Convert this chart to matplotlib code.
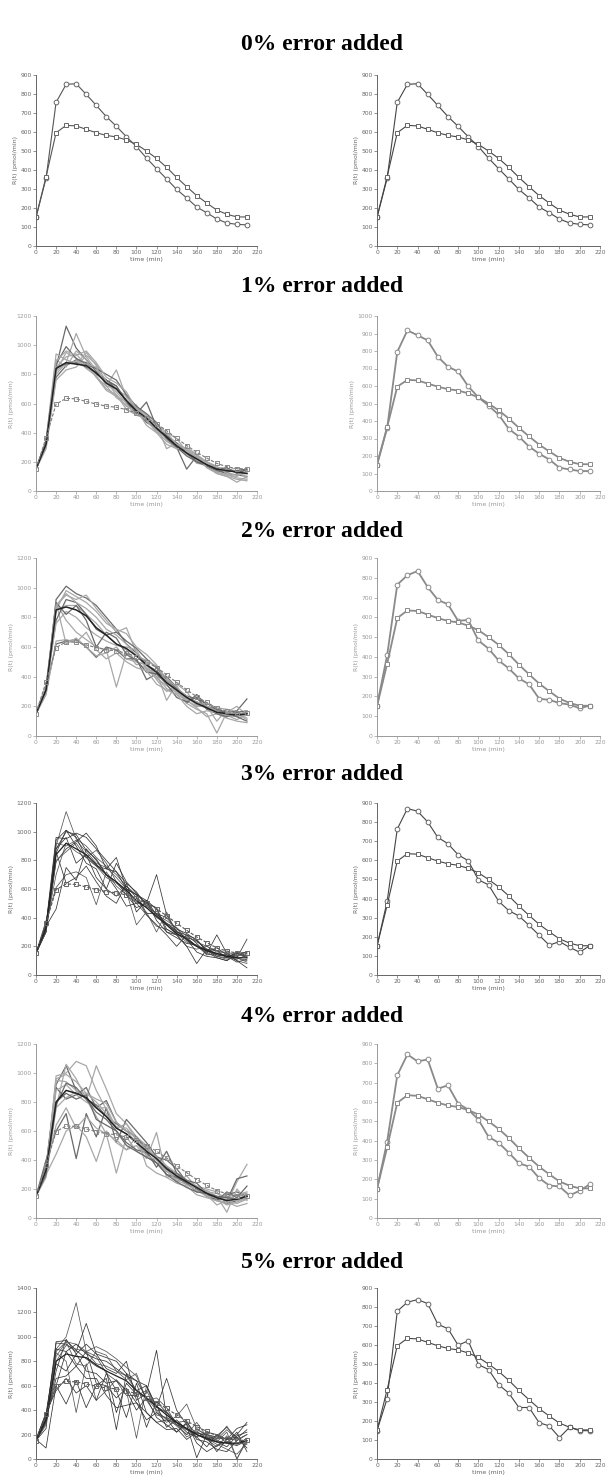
import matplotlib
matplotlib.use('Agg')
import matplotlib.pyplot as plt

# ---------------- data ----------------
time_min = list(range(0, 220, 10))
titles = ['0% error added', '1% error added', '2% error added',
          '3% error added', '4% error added', '5% error added']

true_profile = [151, 365, 596, 635, 632, 614, 596, 582, 574, 558, 535, 500,
                461, 414, 361, 312, 265, 226, 189, 167, 153, 153]

fit_err0 = [151, 356, 756, 851, 854, 798, 740, 681, 630, 575, 523, 463,
            407, 353, 298, 253, 205, 175, 142, 121, 114, 111]
fit_err1 = [150, 360, 795, 918, 890, 861, 767, 710, 683, 598, 535, 488,
            436, 355, 311, 254, 213, 180, 133, 123, 114, 114]
fit_err2 = [154, 408, 765, 813, 834, 753, 688, 666, 582, 587, 483, 442,
            382, 342, 291, 262, 188, 183, 166, 159, 140, 154]
fit_err3 = [152, 385, 764, 871, 857, 801, 720, 687, 629, 598, 498, 472,
            386, 337, 309, 260, 208, 156, 175, 145, 119, 154]
fit_err4 = [150, 395, 738, 846, 810, 820, 669, 686, 592, 561, 509, 420,
            389, 338, 283, 266, 206, 168, 163, 117, 141, 175]
fit_err5 = [149, 318, 778, 825, 839, 818, 709, 686, 599, 622, 497, 471,
            391, 347, 271, 271, 191, 174, 113, 167, 149, 149]

runs_err1 = [
    [150, 320, 850, 1130, 980, 900, 820, 760, 700, 620, 560, 500, 430, 380, 310, 260, 220, 180, 140, 120, 110, 100],
    [160, 300, 800, 880, 1080, 920, 830, 740, 680, 600, 540, 480, 420, 360, 300, 250, 210, 170, 150, 130, 140, 120],
    [150, 340, 940, 900, 870, 950, 860, 720, 830, 640, 570, 520, 450, 290, 330, 280, 230, 170, 130, 110, 90, 80],
    [155, 330, 780, 860, 900, 880, 800, 760, 720, 610, 530, 610, 440, 370, 300, 150, 240, 200, 160, 150, 130, 140],
    [150, 310, 820, 950, 910, 840, 790, 700, 660, 580, 550, 490, 400, 390, 310, 270, 190, 180, 120, 100, 60, 100],
    [150, 350, 900, 850, 960, 900, 780, 720, 700, 650, 560, 510, 440, 350, 290, 280, 250, 200, 150, 140, 160, 130],
    [160, 320, 850, 870, 880, 850, 810, 760, 720, 620, 540, 470, 430, 380, 330, 260, 200, 170, 140, 130, 140, 150],
    [150, 290, 760, 830, 850, 930, 870, 750, 660, 560, 520, 500, 460, 400, 320, 290, 240, 190, 160, 150, 130, 90],
    [150, 330, 850, 920, 940, 860, 780, 690, 650, 610, 590, 480, 410, 340, 300, 260, 230, 160, 130, 110, 100, 140],
    [150, 340, 870, 990, 910, 870, 840, 800, 760, 660, 580, 530, 470, 360, 300, 240, 200, 180, 150, 160, 120, 150],
    [150, 300, 820, 880, 890, 870, 850, 720, 640, 590, 520, 500, 420, 400, 360, 270, 230, 200, 170, 120, 110, 120],
    [155, 320, 890, 960, 930, 960, 880, 780, 740, 680, 560, 450, 400, 320, 290, 300, 250, 160, 120, 100, 80, 70],
]
mean_err1 = [150, 320, 840, 880, 870, 860, 810, 740, 700, 620, 550, 500, 430, 370, 310, 260, 220, 180, 150, 140, 130, 120]

runs_err2 = [
    [150, 300, 920, 1010, 960, 930, 880, 800, 720, 620, 560, 480, 440, 380, 300, 260, 230, 200, 170, 150, 140, 160],
    [160, 320, 900, 780, 700, 650, 600, 580, 330, 560, 480, 500, 400, 320, 280, 240, 190, 130, 150, 140, 110, 150],
    [150, 280, 880, 950, 920, 950, 860, 780, 700, 730, 560, 450, 430, 240, 350, 300, 200, 200, 100, 180, 160, 120],
    [150, 310, 620, 640, 650, 600, 530, 600, 580, 520, 520, 380, 420, 400, 330, 220, 280, 200, 180, 160, 170, 250],
    [150, 340, 850, 880, 880, 820, 760, 680, 620, 580, 500, 450, 390, 340, 290, 250, 230, 200, 160, 140, 130, 150],
    [160, 300, 900, 620, 660, 600, 540, 560, 600, 520, 500, 480, 380, 300, 340, 220, 180, 150, 20, 160, 200, 140],
    [150, 320, 780, 920, 900, 820, 720, 680, 700, 640, 590, 520, 460, 380, 320, 270, 250, 220, 180, 150, 130, 100],
    [150, 290, 850, 980, 940, 900, 840, 760, 720, 690, 600, 550, 480, 360, 300, 270, 210, 190, 150, 120, 100, 90],
    [150, 330, 760, 840, 800, 730, 680, 640, 610, 600, 580, 460, 400, 380, 300, 240, 200, 200, 170, 130, 140, 160],
    [150, 310, 900, 820, 880, 780, 600, 700, 660, 550, 510, 430, 420, 350, 260, 230, 260, 180, 150, 130, 160, 170],
    [150, 280, 640, 650, 630, 700, 580, 520, 560, 500, 460, 440, 350, 310, 280, 200, 150, 170, 160, 140, 150, 110],
    [160, 340, 880, 960, 900, 860, 800, 720, 680, 620, 540, 510, 470, 390, 330, 260, 210, 220, 190, 180, 140, 170],
]
mean_err2 = [150, 310, 850, 870, 850, 810, 730, 680, 620, 590, 540, 480, 430, 360, 310, 260, 220, 190, 160, 150, 140, 150]

runs_err3 = [
    [150, 320, 900, 1140, 950, 900, 820, 760, 700, 620, 560, 500, 420, 380, 330, 240, 200, 170, 140, 130, 120, 100],
    [150, 350, 960, 950, 990, 960, 880, 800, 720, 640, 580, 480, 430, 360, 300, 260, 200, 180, 150, 140, 130, 150],
    [160, 300, 850, 1010, 900, 780, 740, 600, 780, 650, 570, 500, 700, 420, 300, 280, 220, 150, 280, 150, 120, 250],
    [150, 380, 610, 700, 720, 680, 490, 720, 620, 560, 500, 420, 340, 320, 280, 200, 180, 200, 170, 150, 100, 80],
    [150, 340, 460, 750, 660, 880, 800, 700, 650, 560, 470, 500, 470, 320, 280, 260, 240, 180, 140, 130, 150, 130],
    [160, 310, 880, 960, 780, 840, 680, 600, 550, 620, 540, 420, 350, 280, 200, 280, 250, 160, 190, 140, 100, 50],
    [150, 330, 920, 900, 940, 860, 780, 750, 680, 600, 510, 470, 400, 360, 330, 270, 230, 200, 160, 160, 140, 160],
    [150, 300, 790, 880, 930, 990, 900, 740, 720, 600, 560, 430, 430, 400, 320, 290, 240, 170, 130, 120, 110, 140],
    [150, 360, 860, 640, 680, 760, 650, 550, 500, 640, 440, 520, 380, 300, 280, 200, 80, 180, 170, 120, 160, 120],
    [150, 340, 700, 920, 860, 820, 870, 780, 650, 580, 350, 440, 300, 440, 290, 230, 200, 160, 120, 100, 150, 130],
    [160, 320, 940, 1010, 960, 820, 760, 740, 820, 600, 560, 520, 460, 300, 260, 220, 210, 140, 150, 130, 90, 110],
    [150, 340, 880, 1000, 980, 870, 810, 700, 600, 480, 500, 520, 420, 360, 310, 250, 160, 130, 120, 100, 150, 160],
    [150, 300, 800, 860, 920, 820, 760, 680, 640, 580, 500, 490, 420, 350, 280, 260, 200, 150, 130, 110, 120, 90],
]
mean_err3 = [150, 330, 840, 920, 880, 840, 770, 700, 650, 590, 520, 470, 410, 350, 290, 250, 200, 170, 150, 130, 120, 120]

runs_err4 = [
    [150, 320, 920, 1050, 880, 820, 780, 700, 650, 600, 560, 480, 410, 350, 300, 260, 200, 150, 120, 100, 120, 150],
    [160, 300, 980, 1000, 1080, 1050, 880, 750, 620, 580, 520, 440, 380, 320, 280, 240, 220, 200, 180, 100, 250, 370],
    [150, 350, 950, 940, 880, 820, 1050, 890, 720, 650, 560, 500, 430, 360, 310, 260, 220, 180, 130, 90, 110, 140],
    [150, 400, 600, 720, 410, 720, 560, 760, 520, 680, 600, 520, 420, 400, 340, 250, 200, 160, 120, 160, 180, 150],
    [160, 300, 440, 600, 640, 560, 390, 600, 520, 470, 500, 410, 590, 280, 300, 230, 210, 190, 150, 40, 200, 120],
    [150, 330, 760, 1060, 960, 820, 700, 580, 310, 560, 460, 420, 380, 330, 250, 290, 210, 180, 140, 130, 160, 170],
    [150, 360, 900, 820, 850, 900, 760, 810, 660, 600, 560, 460, 350, 460, 310, 260, 240, 170, 140, 120, 270, 290],
    [150, 280, 760, 830, 870, 860, 800, 720, 630, 620, 540, 470, 420, 340, 290, 230, 210, 160, 90, 120, 160, 180],
    [160, 340, 880, 920, 850, 800, 760, 760, 620, 650, 540, 490, 400, 330, 270, 250, 210, 180, 170, 140, 120, 130],
    [150, 320, 780, 930, 900, 820, 730, 680, 600, 520, 470, 450, 380, 300, 280, 240, 180, 170, 120, 180, 140, 220],
    [150, 340, 640, 760, 620, 700, 620, 580, 540, 470, 560, 360, 310, 280, 240, 220, 160, 140, 120, 110, 80, 100],
    [150, 310, 960, 990, 940, 860, 820, 790, 660, 600, 520, 430, 400, 330, 260, 230, 190, 150, 140, 120, 100, 130],
    [150, 300, 800, 860, 820, 850, 680, 640, 600, 500, 460, 420, 380, 300, 250, 210, 180, 170, 150, 140, 130, 150],
]
mean_err4 = [150, 330, 800, 880, 860, 830, 760, 700, 620, 580, 520, 460, 410, 340, 290, 250, 210, 170, 140, 120, 130, 150]

runs_err5 = [
    [150, 330, 900, 1000, 1280, 880, 840, 700, 640, 520, 520, 560, 400, 320, 280, 240, 200, 170, 120, 80, 40, 130],
    [150, 250, 950, 940, 880, 1110, 860, 740, 700, 800, 480, 540, 890, 340, 300, 250, 200, 160, 190, 260, 170, 240],
    [160, 90, 600, 450, 640, 420, 600, 660, 240, 700, 560, 600, 420, 660, 400, 280, 10, 200, 180, 160, 200, 300],
    [150, 360, 870, 800, 380, 780, 480, 560, 650, 560, 170, 600, 380, 300, 350, 450, 250, 190, 140, 220, 0, 170],
    [150, 330, 960, 970, 890, 820, 760, 720, 380, 620, 530, 260, 470, 380, 300, 310, 160, 140, 80, 60, 150, 200],
    [150, 300, 720, 980, 860, 940, 860, 830, 800, 700, 640, 600, 430, 380, 280, 250, 180, 220, 200, 160, 180, 90],
    [150, 340, 800, 930, 900, 880, 780, 760, 720, 680, 560, 500, 400, 390, 300, 180, 230, 160, 100, 190, 0, 150],
    [160, 380, 560, 660, 540, 600, 480, 700, 560, 340, 620, 380, 300, 240, 250, 160, 220, 180, 60, 160, 250, 280],
    [150, 320, 660, 680, 760, 880, 620, 600, 500, 580, 460, 320, 380, 330, 220, 290, 130, 60, 110, 140, 120, 170],
    [150, 280, 880, 960, 940, 880, 920, 880, 820, 750, 680, 480, 500, 420, 280, 200, 300, 180, 160, 240, 160, 200],
    [150, 300, 780, 720, 860, 720, 700, 620, 640, 560, 400, 500, 440, 260, 320, 240, 210, 200, 150, 130, 220, 60],
    [160, 370, 900, 880, 760, 660, 660, 520, 420, 440, 460, 380, 300, 320, 300, 220, 180, 100, 200, 130, 110, 150],
    [150, 300, 840, 960, 780, 760, 880, 850, 720, 650, 700, 480, 360, 340, 270, 200, 240, 200, 170, 270, 130, 120],
    [150, 360, 600, 880, 940, 860, 820, 800, 740, 680, 640, 500, 340, 280, 220, 300, 200, 160, 140, 100, 190, 220],
]
mean_err5 = [150, 320, 800, 860, 840, 830, 770, 720, 680, 640, 560, 500, 430, 360, 300, 250, 200, 170, 140, 130, 130, 150]

# ---------------- layout / style ----------------
W, H = 608, 1477
fig = plt.figure(figsize=(W / 100, H / 100), dpi=100)
fig.patch.set_facecolor('white')

rows_y = [(75, 246), (316, 491), (558, 736), (803, 975), (1044, 1218), (1288, 1459)]
title_y = [44, 287, 532, 775, 1016, 1262]
left_x = (36, 257)
right_x = (377, 600)

left_ymax = [900, 1200, 1200, 1200, 1200, 1400]
left_ystep = [100, 200, 200, 200, 200, 200]
right_ymax = [900, 1000, 900, 900, 900, 900]

fits = [fit_err0, fit_err1, fit_err2, fit_err3, fit_err4, fit_err5]
runs = [None, runs_err1, runs_err2, runs_err3, runs_err4, runs_err5]
means = [None, mean_err1, mean_err2, mean_err3, mean_err4, mean_err5]

# visual tone per row: dark (black scan) or light (gray scan)
dark_row = [True, False, False, True, False, True]


def add_ax(xr, yr):
    x0, x1 = xr
    y0, y1 = yr
    return fig.add_axes([x0 / W, 1 - y1 / H, (x1 - x0) / W, (y1 - y0) / H])


def style(ax, ymax, ystep, col):
    ax.set_xlim(0, 220)
    ax.set_ylim(0, ymax)
    ax.set_xticks(range(0, 221, 20))
    ax.set_yticks(range(0, ymax + 1, ystep))
    for s in ['top', 'right']:
        ax.spines[s].set_visible(False)
    for s in ['left', 'bottom']:
        ax.spines[s].set_color(col)
        ax.spines[s].set_linewidth(0.7)
    ax.tick_params(direction='out', length=2, width=0.5, colors=col,
                   labelsize=4.3, pad=1)
    ax.set_xlabel('time (min)', fontsize=4.5, color=col, labelpad=1)
    ax.set_ylabel('R(t) (pmol/min)', fontsize=4.5, color=col, labelpad=2)


for i in range(6):
    fig.text(322 / W, 1 - title_y[i] / H, titles[i], ha='center', va='center',
             fontsize=17, fontweight='bold', family='Liberation Serif')

    dk = dark_row[i]
    axcol = '#666666' if dk else '#9a9a9a'
    linecol = '#444444' if dk else '#8a8a8a'

    # ----- left panel -----
    axl = add_ax(left_x, rows_y[i])
    if i == 0:
        axl.plot(time_min, fits[0], '-o', color='#555555', lw=0.8, ms=3.4,
                 mfc='white', mec='#666666', mew=0.7)
        axl.plot(time_min, true_profile, '-s', color='#555555', lw=0.8, ms=3.2,
                 mfc='white', mec='#666666', mew=0.7)
    else:
        for k, r in enumerate(runs[i]):
            if dk:
                c = '#333333' if k % 3 else '#555555'
                lw = 0.55
            else:
                c = '#a8a8a8' if k % 3 else '#6a6a6a'
                lw = 0.9
            axl.plot(time_min, r, '-', color=c, lw=lw)
        axl.plot(time_min, means[i], '-', color='#222222', lw=1.1 if not dk else 0.9)
        axl.plot(time_min, true_profile, '--s', color='#555555' if dk else '#7a7a7a',
                 lw=0.8, ms=3.0, mfc='none', mec='#666666' if dk else '#8a8a8a', mew=0.7,
                 dashes=(3, 1.5))
    style(axl, left_ymax[i], left_ystep[i], axcol)

    # ----- right panel -----
    axr = add_ax(right_x, rows_y[i])
    lw = 0.8 if dk else 1.3
    mcol = '#666666' if dk else '#8a8a8a'
    axr.plot(time_min, fits[i], '-o', color=linecol, lw=lw, ms=3.4,
             mfc='white', mec=mcol, mew=0.7)
    axr.plot(time_min, true_profile, '-s', color=linecol, lw=lw, ms=3.2,
             mfc='white', mec=mcol, mew=0.7)
    style(axr, right_ymax[i], 100, axcol)

fig.savefig('out.png', dpi=100, facecolor='white')
